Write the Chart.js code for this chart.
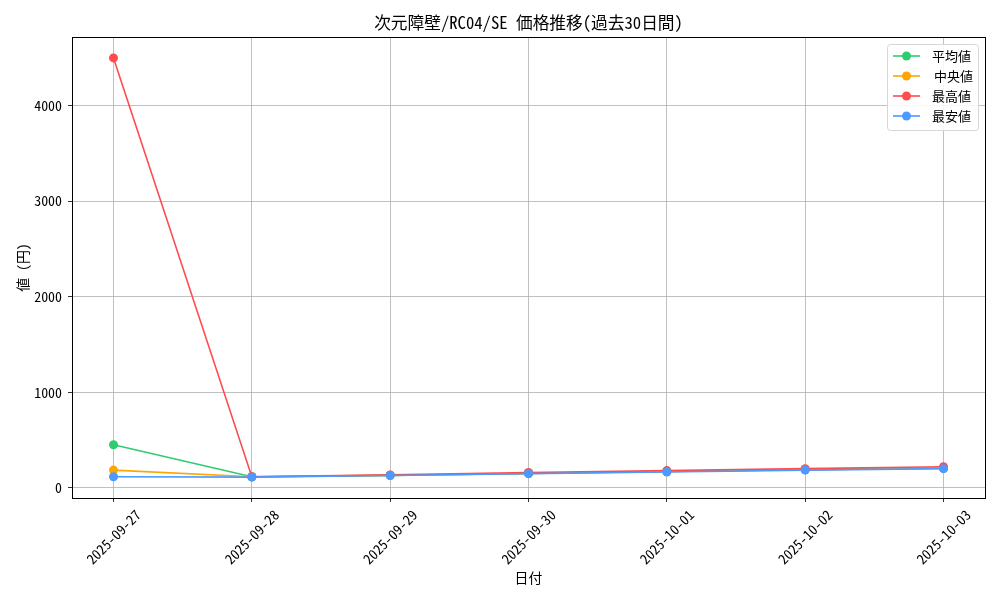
<!DOCTYPE html>
<html><head><meta charset="utf-8">
<script src="https://cdn.jsdelivr.net/npm/chart.js@4.4.1/dist/chart.umd.min.js"></script>
<style>html,body{margin:0;padding:0;background:#fff}#wrap{width:1000px;height:600px}</style>
</head><body><div id="wrap"><canvas id="c" width="1000" height="600"></canvas></div>
<script>
const dates = ["2025-09-27","2025-09-28","2025-09-29","2025-09-30","2025-10-01","2025-10-02","2025-10-03"];
const avgValues = [450, 115, 130, 150, 170, 190, 205];
const medianValues = [185, 115, 130, 150, 170, 190, 205];
const maxValues = [4500, 115, 135, 160, 180, 200, 220];
const minValues = [115, 112, 128, 148, 165, 185, 200];
const yTicks = [0, 1000, 2000, 3000, 4000];
const seriesLabels = ["平均値", "中央値", "最高値", "最安値"];
const titleText = "次元障壁/RC04/SE 価格推移(過去30日間)";
const FONT = "'Noto Sans Mono CJK JP', 'Noto Sans CJK JP', sans-serif";
const FS = 13.9;

function pts(arr){ return arr.map((v,i)=>({x:i,y:v})); }
function ds(label, data, color, order){
  return {label, data: pts(data), borderColor: color, backgroundColor: color,
    borderWidth: 1.6, pointRadius: 4.5, pointHoverRadius: 4.5, pointBorderWidth: 0,
    tension: 0, order};
}
const colors = ["#2ecc71", "#ffa500", "#ff4c4c", "#4c9aff"];

const framePlugin = {
  id: 'frame',
  afterDraw(chart){
    const {ctx, chartArea:a} = chart;
    ctx.save();
    ctx.strokeStyle = '#000'; ctx.lineWidth = 1;
    ctx.strokeRect(Math.round(a.left)+0.5, Math.round(a.top)+0.5, Math.round(a.right-a.left), Math.round(a.bottom-a.top));
    // title centred over the plot area
    ctx.fillStyle = '#000';
    ctx.font = "16.7px " + FONT;
    ctx.textAlign = 'center'; ctx.textBaseline = 'middle';
    ctx.fillText(titleText, (a.left + a.right) / 2, a.top - 14);
    // x tick labels, rotated 45° about their centre
    const xs = chart.scales.x;
    ctx.font = FS + "px " + FONT;
    dates.forEach((d, i) => {
      const px = xs.getPixelForValue(i);
      ctx.save();
      ctx.translate(px, a.bottom + 39);
      ctx.rotate(-Math.PI/4);
      ctx.fillText(d, 0, 0);
      ctx.restore();
    });
    // legend
    const bx = 887.5, by = 44.5, bw = 91, bh = 86;
    ctx.fillStyle = 'rgba(255,255,255,0.85)';
    ctx.strokeStyle = '#d6d6d6';
    ctx.beginPath();
    ctx.roundRect(bx, by, bw, bh, 3);
    ctx.fill(); ctx.stroke();
    chart.data.datasets.forEach((d, i) => {
      const y = 56 + i*20;
      ctx.strokeStyle = d.borderColor; ctx.lineWidth = 1.6;
      ctx.beginPath(); ctx.moveTo(893, y); ctx.lineTo(920, y); ctx.stroke();
      ctx.fillStyle = d.borderColor;
      ctx.beginPath(); ctx.arc(906.5, y, 4.5, 0, Math.PI*2); ctx.fill();
      ctx.fillStyle = '#000';
      ctx.font = "13px " + FONT;
      ctx.textBaseline = 'middle'; ctx.textAlign = 'left';
      ctx.fillText(d.label, i === 1 ? 934 : 932, y);
    });
    ctx.restore();
  }
};

new Chart(document.getElementById('c'), {
  type: 'line',
  data: { datasets: [
    ds(seriesLabels[0], avgValues, colors[0], 3),
    ds(seriesLabels[1], medianValues, colors[1], 2),
    ds(seriesLabels[2], maxValues, colors[2], 1),
    ds(seriesLabels[3], minValues, colors[3], 0)
  ]},
  options: {
    responsive: false, animation: false, devicePixelRatio: 1,
    layout: { padding: { left: 0, right: 15, top: 37, bottom: 0 } },
    plugins: {
      legend: { display: false },
      tooltip: { enabled: false },
      title: { display: false }
    },
    scales: {
      x: {
        type: 'linear', min: -0.3, max: 6.3,
        afterFit(s){ s.height = 102; },
        afterBuildTicks(s){ s.ticks = dates.map((d,i)=>({value:i})); },
        ticks: { display: false, includeBounds: false, autoSkip: false },
        grid: { color: '#b0b0b0', lineWidth: 0.8, tickColor: '#000', tickLength: 4 },
        border: { display: false },
        title: { display: true, text: "日付", color: '#000', font: { family: FONT, size: FS }, padding: { top: 0, bottom: 14 } }
      },
      y: {
        min: -107, max: 4719,
        afterFit(s){ s.width = 72; },
        afterBuildTicks(s){ s.ticks = yTicks.map(v=>({value:v})); },
        ticks: { color: '#000', font: { family: FONT, size: FS }, padding: 6, callback: (v) => String(v) },
        grid: { color: '#b0b0b0', lineWidth: 0.8, tickColor: '#000', tickLength: 4 },
        border: { display: false },
        title: { display: true, text: "値 (円)", color: '#000', font: { family: FONT, size: FS }, padding: { top: 14, bottom: 0 } }
      }
    }
  },
  plugins: [framePlugin]
});
</script></body></html>
